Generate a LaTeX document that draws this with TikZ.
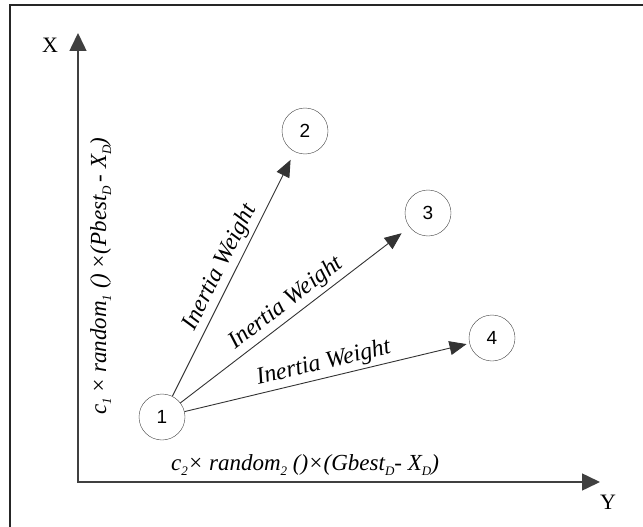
\documentclass[tikz,border=0pt]{standalone}
\usepackage{fontspec}
\setmainfont{Liberation Serif}
\newfontfamily\numfont{Liberation Sans}
\usetikzlibrary{arrows.meta}
\newcommand{\lowidx}[1]{\raisebox{-5pt}{\fontsize{13}{13}\selectfont #1}}

\begin{document}
\begin{tikzpicture}[x=1pt,y=-1pt,
    particle/.style={draw=black!75,circle,minimum size=46pt,inner sep=0pt,
      font=\numfont\fontsize{19}{19}\selectfont},
    axis/.style={draw=black!75,line width=1.5pt,
      {Triangle[length=18pt,width=17pt]}-{Triangle[length=18pt,width=17pt]}},
    velocity/.style={draw=black!80,line width=0.9pt,
      -{Triangle[length=17pt,width=14pt]}},
    weight/.style={font=\fontsize{24}{24}\selectfont\itshape,sloped,above,midway},
    term/.style={font=\fontsize{23}{23}\selectfont\itshape,anchor=base},
    axlabel/.style={font=\fontsize{22}{22}\selectfont}]
  \useasboundingbox (0,0) rectangle (643,527);
  \clip (0,0) rectangle (643,527);
  \draw[black!85,line width=2.2pt] (10,5) rectangle (660,545);

  % axes
  \coordinate (origin) at (78,482);
  \coordinate (xtip) at (78,33);
  \coordinate (ytip) at (600,482);
  \draw[axis] (xtip) -- (origin) -- (ytip);
  \node[axlabel] (xlabel) at (50,45) {X};
  \node[axlabel] (ylabel) at (608,502) {Y};

  % particles
  \node[particle] (p1) at (162,417) {1};
  \node[particle] (p2) at (305,131) {2};
  \node[particle] (p3) at (428,213) {3};
  \node[particle] (p4) at (492,338) {4};

  \draw[velocity,shorten >=9pt] (p1) -- (p2) node[weight] {Inertia Weight};
  \draw[velocity,shorten >=10pt] (p1) -- (p3) node[weight] {Inertia Weight};
  \draw[velocity,shorten >=3pt] (p1) -- (p4) node[weight] {Inertia Weight};

  % cognitive and social terms
  \node[term,rotate=90] (pbest) at (106,276)
    {c\lowidx{1}\,× random\lowidx{1} ()\,×(Pbest\lowidx{D}\,- X\lowidx{D})};
  \node[term] (gbest) at (305,470)
    {c\lowidx{2}× random\lowidx{2} ()×(Gbest\lowidx{D}- X\lowidx{D})};
\end{tikzpicture}
\end{document}
